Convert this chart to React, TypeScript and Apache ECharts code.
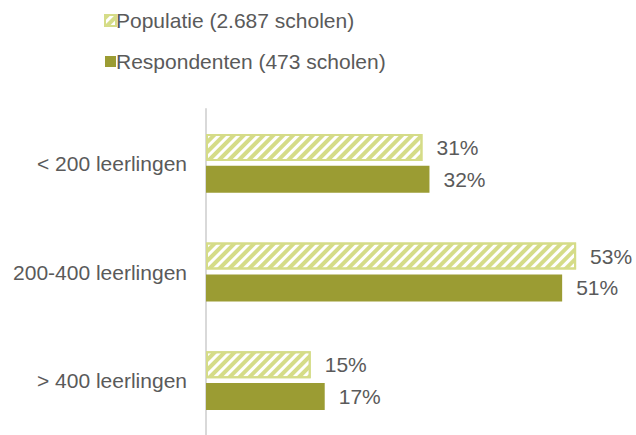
import React, { useEffect, useRef } from "react";
import * as echarts from "echarts";

const categories = ["< 200 leerlingen", "200-400 leerlingen", "> 400 leerlingen"];
const populatie = [31, 53, 15];
const respondenten = [32, 51, 17];
const seriesNames = ["Populatie (2.687 scholen)", "Respondenten (473 scholen)"];

export default function App() {
  const ref = useRef<HTMLDivElement>(null);
  useEffect(() => {
    if (!ref.current) return;
    const chart = echarts.init(ref.current, undefined, { renderer: "svg" });
    const font = "'Liberation Sans', Arial, sans-serif";
    const fs = 21;
    const labelStyle = {
      show: true,
      position: "right",
      distance: 14,
      formatter: "{c}%",
      fontSize: fs,
      color: "#5a5a5a",
      fontFamily: font,
    };
    chart.setOption({
      animation: false,
      textStyle: { fontFamily: font },
      legend: {
        orient: "vertical",
        left: 99,
        top: 5,
        itemWidth: 11,
        itemHeight: 11,
        itemGap: 20,
        icon: "rect",
        textStyle: { fontSize: fs, color: "#5a5a5a", fontFamily: font, padding: [0, 0, 0, -5] },
        data: seriesNames,
      },
      grid: { left: 206, top: 109, height: 329, width: 419 },
      xAxis: {
        type: "value",
        min: 0,
        max: 60,
        show: false,
        splitLine: { show: false },
      },
      yAxis: {
        type: "category",
        inverse: true,
        data: categories,
        axisLine: { show: true, lineStyle: { color: "#d9d9d9", width: 2 } },
        axisTick: { show: false },
        axisLabel: { fontSize: fs, color: "#5a5a5a", margin: 19, fontFamily: font },
      },
      series: [
        {
          name: seriesNames[0],
          type: "bar",
          data: populatie,
          barWidth: 27,
          barGap: "18%",
          itemStyle: {
            color: "#ffffff",
            borderColor: "#d5dc88",
            borderWidth: 2,
            decal: {
              symbol: "rect",
              color: "#d5dc88",
              dashArrayX: [1, 0],
              dashArrayY: [4, 3],
              rotation: -Math.PI / 4,
            },
          },
          label: labelStyle,
        },
        {
          name: seriesNames[1],
          type: "bar",
          data: respondenten,
          barWidth: 27,
          itemStyle: { color: "#9b9c33" },
          label: labelStyle,
        },
      ],
    });
    return () => chart.dispose();
  }, []);
  return <div ref={ref} style={{ width: 636, height: 435, position: "absolute", left: 0, top: 0 }} />;
}
